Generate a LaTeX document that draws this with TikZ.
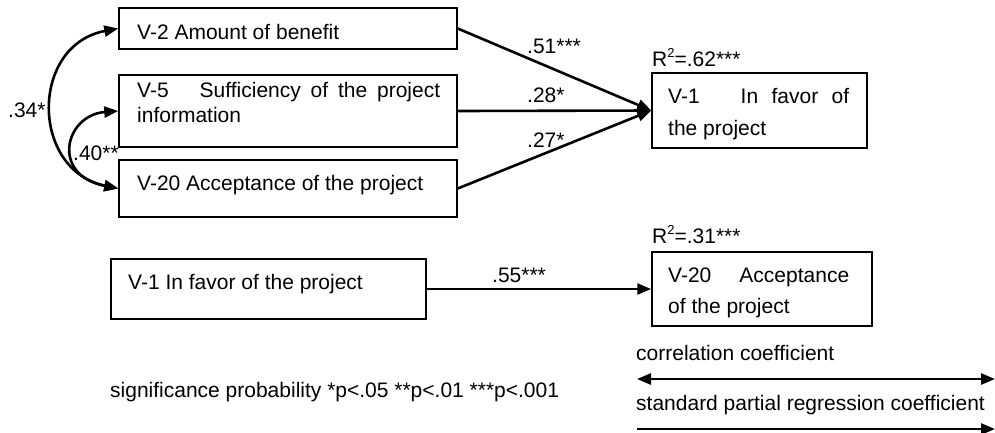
\documentclass[tikz,border=0pt]{standalone}
\usepackage{fontspec}
\setmainfont{Liberation Sans}
\usetikzlibrary{arrows.meta}

\tikzset{
  varbox/.style={draw, line width=1.5pt, rectangle, inner sep=0pt},
  txt/.style={anchor=base west, inner sep=0pt, font=\fontsize{21}{25}\selectfont},
  regarrow/.style={line width=2.6pt, -{Triangle[length=14pt,width=11pt]}},
  corrarrow/.style={line width=2.6pt, {Triangle[length=14pt,width=11pt]}-{Triangle[length=14pt,width=11pt]}},
}
\newcommand{\rsq}{R\raisebox{0.42em}{\fontsize{13}{13}\selectfont 2}}

\begin{document}
\begin{tikzpicture}[x=1pt,y=-1pt]
\useasboundingbox (0,0) rectangle (995,432);

% upper model: predictors of V-1
\node[varbox, minimum width=338pt, minimum height=41pt] (v2) at (288,28.5) {};
\node[varbox, minimum width=338pt, minimum height=72pt] (v5) at (288,111) {};
\node[varbox, minimum width=338pt, minimum height=57pt] (v20) at (288,188.5) {};
\node[varbox, minimum width=215pt, minimum height=75pt] (v1t) at (759.5,110.5) {};

\node[txt] (t2) at (137,39) {V-2 Amount of benefit};
\node[txt] (t5a) at (137,97) {\hbox to 303pt{V-5\hspace{31pt}Sufficiency\hfill of\hfill the\hfill project}};
\node[txt] (t5b) at (137,122) {information};
\node[txt] (t20) at (137,190) {V-20 Acceptance of the project};
\node[txt] (t1a) at (668,103) {\hbox to 181pt{V-1\hspace{41pt}In\hfill favor\hfill of}};
\node[txt] (t1b) at (668,135) {the project};
\node[txt] (r1) at (652,66) {\rsq=.62***};

\draw[regarrow] (v2.east) -- (v1t.west);
\draw[regarrow] (v5.east) -- (v1t.west);
\draw[regarrow] (v20.east) -- (v1t.west);

\node[txt] (b51) at (527,53) {.51***};
\node[txt] (b28) at (527,102) {.28*};
\node[txt] (b27) at (527,147) {.27*};

% correlations among predictors
\draw[corrarrow] (v20.west) .. controls (30,170) and (30,45) .. (v2.west);
\draw[corrarrow] (v20.west) .. controls (50,175) and (65,115) .. (v5.west);
\node[txt] (c34) at (8,117) {.34*};
\node[txt] (c40) at (73,160) {.40**};

% lower model: V-1 -> V-20
\node[varbox, minimum width=315pt, minimum height=60pt] (v1b) at (268.5,289) {};
\node[varbox, minimum width=220pt, minimum height=74pt] (v20b) at (762,289) {};
\node[txt] (t1c) at (128,289) {V-1 In favor of the project};
\node[txt] (t20a) at (668,282) {\hbox to 181pt{V-20\hfill Acceptance}};
\node[txt] (t20b) at (668,313) {of the project};
\node[txt] (r2) at (652,243) {\rsq=.31***};

\draw[regarrow] (v1b.east) -- (v20b.west);
\node[txt] (b55) at (492,282) {.55***};

% legend
\node[txt] (sig) at (110,397) {significance probability *p<.05 **p<.01 ***p<.001};
\node[txt] (lc) at (636,360) {correlation coefficient};
\node[txt] (lr) at (636,410) {standard partial regression coefficient};
\coordinate (ca) at (637,379);
\coordinate (cb) at (995,379);
\coordinate (ra) at (637,429);
\coordinate (rb) at (995,429);
\draw[corrarrow] (ca) -- (cb);
\draw[regarrow] (ra) -- (rb);
\end{tikzpicture}
\end{document}
